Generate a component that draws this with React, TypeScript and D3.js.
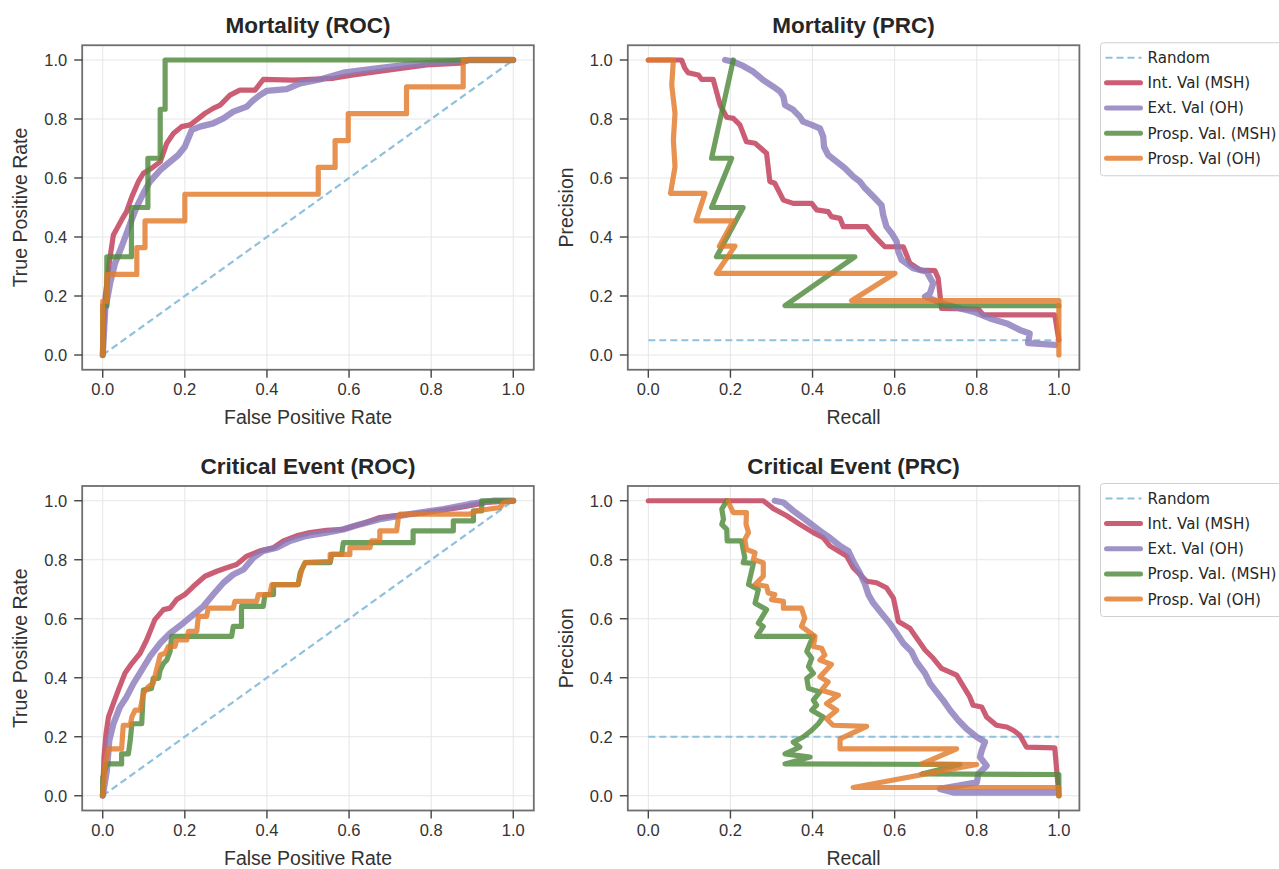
import React from "react";
import * as d3 from "d3";

type Pt = [number, number];

// legend / series labels
const seriesNames = ["Int. Val (MSH)", "Ext. Val (OH)", "Prosp. Val. (MSH)", "Prosp. Val (OH)"];
const seriesColors = ["#bf3a57", "#8b7bbb", "#4f8a3a", "#e27a2a"];
const randomColor = "#8fc1de";
const tickValues = [0, 0.2, 0.4, 0.6, 0.8, 1.0];

// ---- Mortality ROC ----
const mortRocInt: Pt[] = [
  [0, 0], [0.006, 0.198], [0.018, 0.333], [0.026, 0.407], [0.046, 0.458], [0.058, 0.486],
  [0.071, 0.537], [0.087, 0.588], [0.099, 0.616], [0.119, 0.633], [0.14, 0.655], [0.156, 0.718],
  [0.172, 0.751], [0.192, 0.774], [0.213, 0.78], [0.229, 0.797], [0.249, 0.819], [0.269, 0.836],
  [0.286, 0.847], [0.31, 0.881], [0.334, 0.898], [0.371, 0.898], [0.391, 0.934], [0.464, 0.932],
  [0.562, 0.938], [0.61, 0.949], [0.708, 0.968], [0.789, 0.983], [0.87, 0.989], [0.894, 1.0], [1, 1],
];
const mortRocExt: Pt[] = [
  [0, 0], [0.006, 0.153], [0.018, 0.243], [0.03, 0.311], [0.046, 0.367], [0.067, 0.446],
  [0.083, 0.503], [0.099, 0.548], [0.115, 0.588], [0.14, 0.627], [0.164, 0.655], [0.184, 0.678],
  [0.2, 0.706], [0.217, 0.763], [0.237, 0.774], [0.269, 0.785], [0.294, 0.802], [0.318, 0.825],
  [0.351, 0.842], [0.363, 0.859], [0.383, 0.881], [0.399, 0.895], [0.448, 0.901], [0.481, 0.921],
  [0.529, 0.934], [0.586, 0.957], [0.667, 0.972], [0.748, 0.985], [0.83, 0.994], [0.894, 1], [1, 1],
];
const mortRocProspMsh: Pt[] = [
  [0, 0], [0, 0.167], [0.01, 0.167], [0.01, 0.333], [0.07, 0.333], [0.07, 0.5], [0.11, 0.5],
  [0.11, 0.667], [0.14, 0.667], [0.14, 0.833], [0.152, 0.833], [0.152, 1.0], [1, 1],
];
const mortRocProspOh: Pt[] = [
  [0, 0], [0, 0.182], [0.01, 0.182], [0.01, 0.273], [0.083, 0.273], [0.083, 0.364], [0.103, 0.364],
  [0.103, 0.455], [0.2, 0.455], [0.2, 0.545], [0.525, 0.545], [0.525, 0.636], [0.566, 0.636],
  [0.566, 0.727], [0.598, 0.727], [0.598, 0.818], [0.74, 0.818], [0.74, 0.909], [0.878, 0.909],
  [0.878, 1], [1, 1],
];

// ---- Mortality PRC ----
const mortPrcInt: Pt[] = [
  [0, 1], [0.081, 1], [0.089, 0.972], [0.097, 0.957], [0.122, 0.949], [0.13, 0.934], [0.158, 0.934],
  [0.175, 0.847], [0.191, 0.806], [0.207, 0.802], [0.223, 0.78], [0.239, 0.723], [0.26, 0.718],
  [0.288, 0.684], [0.296, 0.588], [0.308, 0.582], [0.329, 0.525], [0.353, 0.514], [0.398, 0.514],
  [0.41, 0.492], [0.438, 0.486], [0.446, 0.469], [0.467, 0.463], [0.475, 0.435], [0.532, 0.435],
  [0.548, 0.407], [0.576, 0.367], [0.621, 0.367], [0.637, 0.311], [0.662, 0.288], [0.698, 0.286],
  [0.706, 0.26], [0.714, 0.158], [0.804, 0.155], [0.816, 0.136], [0.99, 0.136], [1.0, 0.05],
];
const mortPrcExt: Pt[] = [
  [0.187, 1.0], [0.207, 0.994], [0.231, 0.98], [0.256, 0.96], [0.28, 0.932], [0.304, 0.91],
  [0.321, 0.893], [0.329, 0.876], [0.333, 0.847], [0.353, 0.831], [0.369, 0.808], [0.377, 0.791],
  [0.398, 0.78], [0.418, 0.768], [0.426, 0.74], [0.428, 0.706], [0.438, 0.678], [0.459, 0.655],
  [0.479, 0.633], [0.499, 0.605], [0.515, 0.588], [0.528, 0.565], [0.548, 0.537], [0.568, 0.508],
  [0.572, 0.475], [0.58, 0.435], [0.593, 0.412], [0.605, 0.384], [0.609, 0.35], [0.617, 0.322],
  [0.645, 0.294], [0.678, 0.282], [0.694, 0.243], [0.686, 0.209], [0.674, 0.198], [0.706, 0.181],
  [0.743, 0.164], [0.791, 0.147], [0.832, 0.124], [0.873, 0.107], [0.905, 0.085], [0.929, 0.073],
  [0.925, 0.04], [0.99, 0.034],
];
const mortPrcProspMsh: Pt[] = [
  [0.207, 1.0], [0.154, 0.667], [0.203, 0.667], [0.154, 0.5], [0.231, 0.5], [0.166, 0.333],
  [0.503, 0.333], [0.333, 0.167], [1.0, 0.167],
];
const mortPrcProspOh: Pt[] = [
  [0, 1.0], [0.061, 1.0], [0.057, 0.915], [0.065, 0.819], [0.061, 0.729], [0.065, 0.638],
  [0.054, 0.548], [0.138, 0.548], [0.116, 0.455], [0.207, 0.455], [0.173, 0.369], [0.211, 0.369],
  [0.166, 0.277], [0.601, 0.277], [0.495, 0.184], [1.0, 0.184], [1.0, 0.0],
];

// ---- Critical Event ROC ----
const critRocInt: Pt[] = [
  [0, 0], [0.003, 0.131], [0.008, 0.21], [0.014, 0.267], [0.026, 0.313], [0.038, 0.358],
  [0.054, 0.415], [0.071, 0.449], [0.091, 0.483], [0.107, 0.528], [0.127, 0.597], [0.148, 0.631],
  [0.164, 0.636], [0.18, 0.665], [0.2, 0.682], [0.221, 0.71], [0.249, 0.744], [0.278, 0.761],
  [0.302, 0.773], [0.326, 0.784], [0.351, 0.8125], [0.383, 0.83], [0.416, 0.841], [0.44, 0.864],
  [0.472, 0.881], [0.505, 0.892], [0.545, 0.9], [0.586, 0.903], [0.627, 0.92], [0.675, 0.943],
  [0.708, 0.949], [0.789, 0.96], [0.87, 0.977], [0.935, 0.994], [1, 1],
];
const critRocExt: Pt[] = [
  [0, 0], [0.01, 0.085], [0.016, 0.1875], [0.026, 0.244], [0.042, 0.301], [0.058, 0.335],
  [0.075, 0.381], [0.095, 0.426], [0.115, 0.472], [0.14, 0.517], [0.164, 0.551], [0.196, 0.585],
  [0.221, 0.614], [0.245, 0.642], [0.269, 0.682], [0.294, 0.722], [0.318, 0.75], [0.343, 0.767],
  [0.367, 0.807], [0.391, 0.83], [0.424, 0.841], [0.456, 0.864], [0.497, 0.881], [0.545, 0.892],
  [0.586, 0.903], [0.627, 0.92], [0.675, 0.9375], [0.748, 0.955], [0.83, 0.972], [0.894, 0.989],
  [0.951, 1], [1, 1],
];
const critRocProspMsh: Pt[] = [
  [0, 0], [0, 0.0625], [0.01, 0.108], [0.046, 0.108], [0.046, 0.142], [0.0625, 0.142],
  [0.067, 0.1875], [0.071, 0.244], [0.095, 0.244], [0.099, 0.358], [0.119, 0.364], [0.123, 0.398],
  [0.136, 0.398], [0.14, 0.426], [0.148, 0.449], [0.156, 0.46], [0.164, 0.489], [0.168, 0.54],
  [0.314, 0.54], [0.318, 0.574], [0.338, 0.574], [0.338, 0.642], [0.391, 0.642], [0.395, 0.682],
  [0.416, 0.682], [0.416, 0.716], [0.476, 0.716], [0.481, 0.756], [0.493, 0.79], [0.554, 0.79],
  [0.558, 0.818], [0.582, 0.818], [0.586, 0.858], [0.756, 0.858], [0.756, 0.898], [0.854, 0.898],
  [0.854, 0.932], [0.903, 0.932], [0.903, 0.966], [0.923, 0.966], [0.923, 1], [1, 1],
];
const critRocProspOh: Pt[] = [
  [0, 0], [0.006, 0.108], [0.014, 0.159], [0.046, 0.159], [0.05, 0.239], [0.067, 0.239],
  [0.071, 0.267], [0.079, 0.29], [0.091, 0.29], [0.099, 0.347], [0.111, 0.369], [0.123, 0.381],
  [0.131, 0.426], [0.14, 0.477], [0.152, 0.483], [0.16, 0.506], [0.176, 0.506], [0.18, 0.528],
  [0.205, 0.528], [0.209, 0.557], [0.229, 0.557], [0.233, 0.608], [0.253, 0.608], [0.257, 0.636],
  [0.318, 0.636], [0.322, 0.659], [0.375, 0.659], [0.379, 0.682], [0.407, 0.682], [0.412, 0.716],
  [0.476, 0.716], [0.485, 0.767], [0.493, 0.79], [0.554, 0.795], [0.554, 0.818], [0.602, 0.818],
  [0.602, 0.841], [0.651, 0.841], [0.655, 0.864], [0.675, 0.864], [0.675, 0.898], [0.716, 0.898],
  [0.72, 0.943], [0.724, 0.955], [0.894, 0.955], [0.911, 0.966], [0.968, 0.977], [0.976, 0.994], [1, 1],
];

// ---- Critical Event PRC ----
const critPrcInt: Pt[] = [
  [0, 1.0], [0.28, 1.0], [0.304, 0.974], [0.337, 0.949], [0.369, 0.92], [0.402, 0.892],
  [0.426, 0.875], [0.442, 0.847], [0.483, 0.8125], [0.499, 0.773], [0.532, 0.727], [0.556, 0.722],
  [0.58, 0.705], [0.597, 0.67], [0.609, 0.591], [0.637, 0.568], [0.657, 0.528], [0.674, 0.494],
  [0.694, 0.466], [0.714, 0.432], [0.751, 0.409], [0.763, 0.381], [0.783, 0.335], [0.791, 0.307],
  [0.812, 0.301], [0.824, 0.267], [0.848, 0.239], [0.873, 0.233], [0.889, 0.222], [0.905, 0.205],
  [0.921, 0.165], [0.99, 0.1625], [1.0, 0.0],
];
const critPrcExt: Pt[] = [
  [0.308, 1.0], [0.329, 0.994], [0.353, 0.966], [0.386, 0.932], [0.418, 0.898], [0.442, 0.875],
  [0.467, 0.847], [0.487, 0.83], [0.499, 0.795], [0.515, 0.756], [0.528, 0.716], [0.536, 0.682],
  [0.548, 0.653], [0.568, 0.619], [0.588, 0.585], [0.605, 0.551], [0.621, 0.517], [0.641, 0.489],
  [0.653, 0.455], [0.674, 0.415], [0.686, 0.381], [0.702, 0.352], [0.718, 0.324], [0.735, 0.29],
  [0.755, 0.256], [0.775, 0.227], [0.8, 0.199], [0.82, 0.182], [0.812, 0.153], [0.808, 0.131],
  [0.824, 0.102], [0.804, 0.074], [0.8, 0.045], [0.71, 0.023], [0.743, 0.011], [0.994, 0.011],
];
const critPrcProspMsh: Pt[] = [
  [0.191, 1.0], [0.179, 0.972], [0.183, 0.9375], [0.179, 0.92], [0.191, 0.903], [0.192, 0.864],
  [0.227, 0.864], [0.231, 0.835], [0.235, 0.807], [0.231, 0.79], [0.256, 0.7875], [0.244, 0.716],
  [0.268, 0.699], [0.26, 0.653], [0.288, 0.631], [0.268, 0.585], [0.28, 0.574], [0.264, 0.54],
  [0.402, 0.54], [0.394, 0.517], [0.386, 0.489], [0.398, 0.466], [0.39, 0.4375], [0.402, 0.415],
  [0.386, 0.398], [0.39, 0.364], [0.418, 0.352], [0.402, 0.324], [0.41, 0.307], [0.398, 0.29],
  [0.426, 0.267], [0.414, 0.244], [0.398, 0.222], [0.377, 0.199], [0.353, 0.182], [0.369, 0.165],
  [0.333, 0.142], [0.394, 0.131], [0.333, 0.108], [0.759, 0.106], [0.666, 0.074], [1.0, 0.072],
  [1.0, 0.0],
];
const critPrcProspOh: Pt[] = [
  [0.195, 1.0], [0.199, 0.983], [0.207, 0.96], [0.239, 0.96], [0.238, 0.92], [0.244, 0.892],
  [0.235, 0.869], [0.239, 0.835], [0.26, 0.824], [0.256, 0.801], [0.28, 0.79], [0.28, 0.744],
  [0.26, 0.716], [0.288, 0.71], [0.292, 0.6875], [0.308, 0.682], [0.3, 0.665], [0.329, 0.659],
  [0.329, 0.636], [0.373, 0.636], [0.381, 0.602], [0.373, 0.574], [0.406, 0.54], [0.402, 0.506],
  [0.422, 0.5], [0.43, 0.477], [0.418, 0.46], [0.446, 0.445], [0.418, 0.403], [0.438, 0.386],
  [0.422, 0.358], [0.463, 0.341], [0.434, 0.3125], [0.459, 0.29], [0.434, 0.261], [0.45, 0.239],
  [0.532, 0.235], [0.467, 0.193], [0.467, 0.159], [0.751, 0.159], [0.666, 0.108], [0.8, 0.106],
  [0.499, 0.028], [1.0, 0.028], [1.0, 0.0],
];

const rocRandom: Pt[] = [[0, 0], [1, 1]];
const mortPrcRandom: Pt[] = [[0, 0.05], [1, 0.05]];
const critPrcRandom: Pt[] = [[0, 0.2], [1, 0.2]];

const panels = [
  { title: "Mortality (ROC)", xLabel: "False Positive Rate", yLabel: "True Positive Rate",
    left: 82.2, top: 45.25, random: rocRandom, legend: false,
    series: [mortRocInt, mortRocExt, mortRocProspMsh, mortRocProspOh] },
  { title: "Mortality (PRC)", xLabel: "Recall", yLabel: "Precision",
    left: 627.8, top: 45.25, random: mortPrcRandom, legend: true,
    series: [mortPrcInt, mortPrcExt, mortPrcProspMsh, mortPrcProspOh] },
  { title: "Critical Event (ROC)", xLabel: "False Positive Rate", yLabel: "True Positive Rate",
    left: 82.2, top: 486, random: rocRandom, legend: false,
    series: [critRocInt, critRocExt, critRocProspMsh, critRocProspOh] },
  { title: "Critical Event (PRC)", xLabel: "Recall", yLabel: "Precision",
    left: 627.8, top: 486, random: critPrcRandom, legend: true,
    series: [critPrcInt, critPrcExt, critPrcProspMsh, critPrcProspOh] },
];

const W = 451.6; // axes width
const H = 324.5; // axes height
const sansFont = "'Liberation Sans', Arial, sans-serif";
const legendFont = "'DejaVu Sans', sans-serif";
const fmt = d3.format(".1f");

function Panel({ p }: { p: (typeof panels)[number] }) {
  const x = d3.scaleLinear().domain([-0.05, 1.05]).range([p.left, p.left + W]);
  const y = d3.scaleLinear().domain([-0.05, 1.05]).range([p.top + H, p.top]);
  const line = d3.line<Pt>().x((d) => x(d[0])).y((d) => y(d[1]));
  const cx = p.left + W / 2;
  const cy = p.top + H / 2;
  const lgTop = p.top - 2.5;
  const lgX = 1100.5;

  return (
    <g>
      {/* grid */}
      {tickValues.map((t) => (
        <g key={"g" + t}>
          <line x1={x(t)} x2={x(t)} y1={p.top} y2={p.top + H} stroke="#e6e6e6" strokeWidth={1} />
          <line x1={p.left} x2={p.left + W} y1={y(t)} y2={y(t)} stroke="#e6e6e6" strokeWidth={1} />
        </g>
      ))}
      {/* curves */}
      <path d={line(p.random) || ""} fill="none" stroke={randomColor} strokeWidth={2.2} strokeDasharray="7,4" />
      {p.series.map((s, i) => (
        <path key={i} d={line(s) || ""} fill="none" stroke={seriesColors[i]} strokeOpacity={0.82}
          strokeWidth={i === 1 ? 6.3 : 5.2} strokeLinejoin="round" strokeLinecap="round" />
      ))}
      {/* frame */}
      <rect x={p.left} y={p.top} width={W} height={H} fill="none" stroke="#6e6e6e" strokeWidth={1.8} />
      {/* ticks */}
      {tickValues.map((t) => (
        <g key={"t" + t} fill="#333" fontFamily={sansFont} fontSize={16.5}>
          <line x1={x(t)} x2={x(t)} y1={p.top + H} y2={p.top + H + 8} stroke="#444" strokeWidth={1.4} />
          <text x={x(t)} y={p.top + H + 25} textAnchor="middle">{fmt(t)}</text>
          <line x1={p.left - 8} x2={p.left} y1={y(t)} y2={y(t)} stroke="#444" strokeWidth={1.4} />
          <text x={p.left - 15} y={y(t) + 6} textAnchor="end">{fmt(t)}</text>
        </g>
      ))}
      {/* labels */}
      <text x={cx} y={p.top - 12} textAnchor="middle" fontFamily={sansFont} fontWeight="bold"
        fontSize={22.5} fill="#262626">{p.title}</text>
      <text x={cx} y={p.top + H + 54} textAnchor="middle" fontFamily={sansFont} fontSize={19.5}
        fill="#333">{p.xLabel}</text>
      <text transform={`translate(${p.left - 55},${cy}) rotate(-90)`} textAnchor="middle"
        fontFamily={sansFont} fontSize={19.5} fill="#333">{p.yLabel}</text>
      {/* legend */}
      {p.legend && (
        <g>
          <rect x={lgX} y={lgTop} width={200} height={133} rx={3} fill="#fff" stroke="#d0d0d0" strokeWidth={1} />
          <line x1={lgX + 5} x2={lgX + 41} y1={lgTop + 15} y2={lgTop + 15} stroke={randomColor}
            strokeWidth={2.2} strokeDasharray="7,4" />
          <text x={lgX + 47} y={lgTop + 20.5} fontFamily={legendFont} fontSize={15.1} fill="#262626">Random</text>
          {seriesNames.map((n, i) => (
            <g key={n}>
              <line x1={lgX + 6} x2={lgX + 40} y1={lgTop + 40 + i * 25.2} y2={lgTop + 40 + i * 25.2}
                stroke={seriesColors[i]} strokeOpacity={0.82} strokeWidth={5} strokeLinecap="round" />
              <text x={lgX + 47} y={lgTop + 45.5 + i * 25.2} fontFamily={legendFont} fontSize={15.1}
                fill="#262626">{n}</text>
            </g>
          ))}
        </g>
      )}
    </g>
  );
}

export default function App() {
  return (
    <svg width={1279} height={869} style={{ position: "absolute", left: 0, top: 0, background: "#fff" }}>
      <rect width={1279} height={869} fill="#fff" />
      {panels.map((p) => (
        <Panel key={p.title} p={p} />
      ))}
    </svg>
  );
}
